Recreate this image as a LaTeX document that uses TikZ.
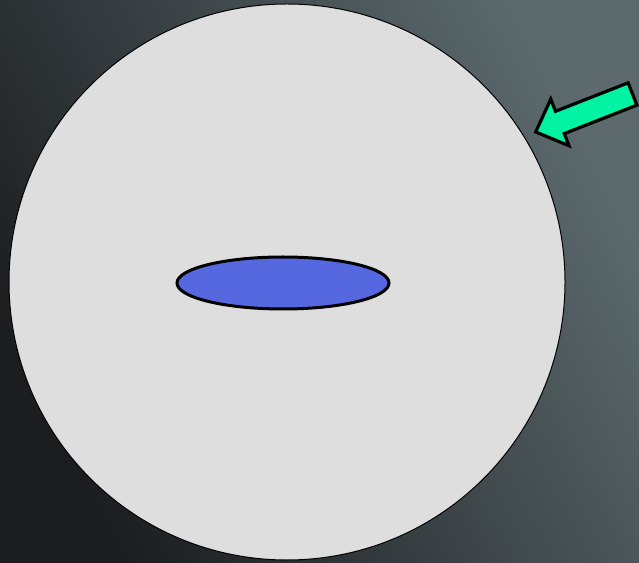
\documentclass[tikz,border=0pt]{standalone}
\usepackage{tikz}
\usetikzlibrary{calc}
\definecolor{bgdark}{HTML}{1B1D1F}
\definecolor{bglight}{HTML}{5C6A6E}
\definecolor{cellgrey}{HTML}{DEDEDE}
\definecolor{nucleusblue}{HTML}{5568DF}
\definecolor{pointergreen}{HTML}{00F2A2}
\tikzset{
  cellbody/.style={draw=black,line width=1pt,fill=cellgrey},
  nucleus/.style={draw=black,line width=3pt,fill=nucleusblue},
  blockarrow/.style={draw=black,line width=3.2pt,fill=pointergreen,line join=miter}
}
\begin{document}
\begin{tikzpicture}[x=1pt,y=1pt]
  \useasboundingbox (0,0) rectangle (639,562);
  \shade[top color=bglight,bottom color=bgdark,shading angle=-62] (0,0) rectangle (639,562);

  \draw[cellbody] (287,280) circle [radius=278];
  \draw[nucleus] (283,279) ellipse [x radius=106,y radius=26];

  \begin{scope}[shift={(632.5,468)},rotate=201.4]
    \draw[blockarrow] (0,12) -- (78,12) -- (78,25) -- (104,0) -- (78,-25) -- (78,-12) -- (0,-12) -- cycle;
  \end{scope}
\end{tikzpicture}
\end{document}
